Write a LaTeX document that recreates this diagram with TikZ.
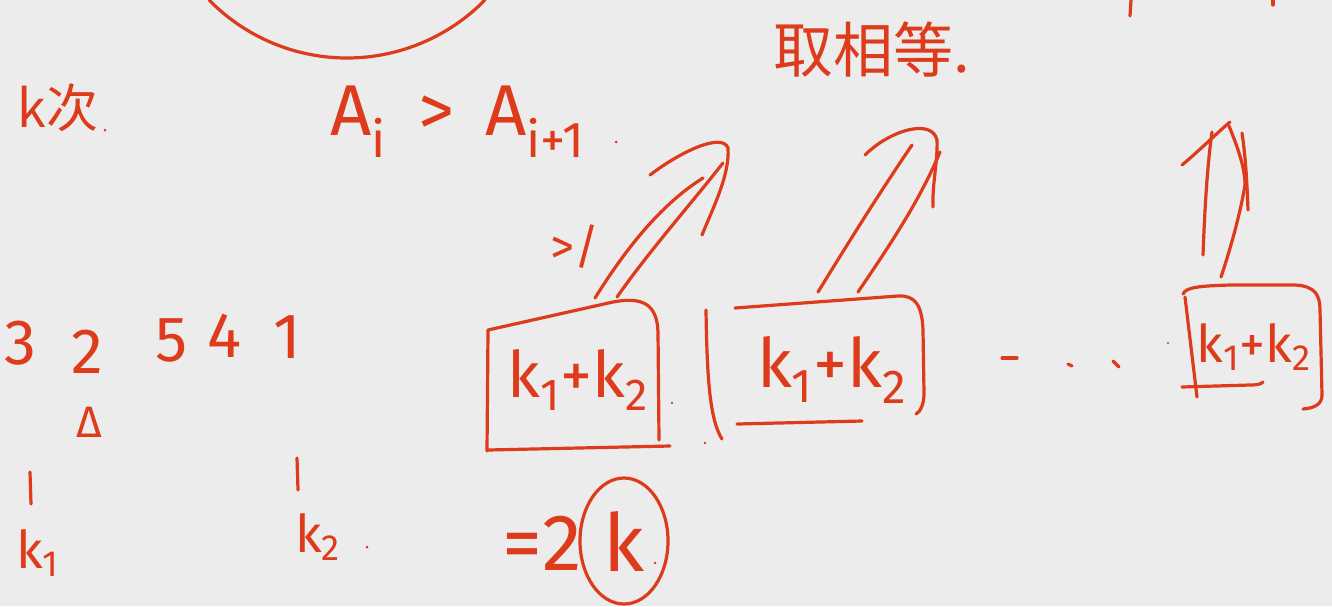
\documentclass[tikz,border=0pt]{standalone}
\usepackage{fontspec}
\setmainfont{Fira Sans}
\newfontfamily\cjkf{Noto Sans CJK SC}
\usetikzlibrary{shapes.geometric}
\definecolor{ink}{HTML}{DD3B1C}
\definecolor{board}{HTML}{EDECEC}
\begin{document}
\begin{tikzpicture}[x=0.5pt,y=-0.5pt,
  pen/.style={draw=ink,line width=1.6pt,line cap=round,line join=round},
  hw/.style={text=ink,inner sep=0pt,anchor=center},
  fs/.style={font=\fontsize{#1}{#1}\selectfont},
  dotc/.style={fill=ink}]
\useasboundingbox (0,0) rectangle (1332,606);
\fill[board] (0,0) rectangle (1332,606);

% top circle arc
\draw[pen] (347,-135) ++(135.6:193) arc[start angle=135.6,end angle=44.4,radius=193];

% top-right stray strokes
\draw[pen] (1131,0) -- (1130,16);
\draw[pen] (1273,0) -- (1273,5);

% texts
\node[hw,font=\cjkf\fontsize{26}{26}\selectfont] (kci) at (58,108) {k次};
\fill[dotc] (105,130) circle (1.5);
\node[hw,fs=36] (ineq) at (458,122) {A\textsubscript{i} \,>\, A\textsubscript{i+1}};
\fill[dotc] (616,142) circle (1.5);
\node[hw,font=\cjkf\fontsize{30}{30}\selectfont] (qxd) at (872,50) {取相等.};

% sequence
\node[hw,fs=32] (n3) at (20,343) {3};
\node[hw,fs=32] (n2) at (87,352) {2};
\node[hw,fs=32] (n5) at (172,340) {5};
\node[hw,fs=32] (n4) at (225,336) {4};
\node[hw,fs=32] (n1) at (287,337) {1};
\node[hw,fs=22] (tri) at (89,422) {Δ};
\coordinate (m1t) at (30,472); \coordinate (m1b) at (31,504);
\coordinate (m2t) at (297,458); \coordinate (m2b) at (298,490);
\draw[pen] (m1t) -- (m1b);
\draw[pen] (m2t) -- (m2b);
\node[hw,fs=26] (ka) at (38,553) {k\textsubscript{1}};
\node[hw,fs=26] (kb) at (318,537) {k\textsubscript{2}};
\fill[dotc] (367,547) circle (1.5);

% box 1
\draw[pen] (487,451) -- (488,330) -- (613,302) .. controls (640,297) and (657,302) .. (658,332) -- (659,440);
\draw[pen] (488,450) -- (670,446);
\node[hw,fs=32] (s1) at (578,380) {k\textsubscript{1}+k\textsubscript{2}};
\fill[dotc] (672,403) circle (1.3);
\fill[dotc] (705,443) circle (1.3);

% bracket + box 2
\draw[pen] (706,310) .. controls (707,380) and (710,420) .. (722,439);
\draw[pen] (735,308) -- (898,296) .. controls (915,295) and (922,305) .. (923,330) -- (924,393) .. controls (924,405) and (920,412) .. (916,414);
\draw[pen] (737,424) -- (862,421);
\node[hw,fs=34] (s2) at (832,370) {k\textsubscript{1}+k\textsubscript{2}};

% dots
\draw[pen] (1002,358) -- (1017,358);
\draw[pen] (1068,364) -- (1072,366);
\draw[pen] (1113,361) -- (1119,367);
\fill[dotc] (1168,343) circle (1.2);

% box 3
\draw[pen] (1185,297) -- (1197,397);
\draw[pen] (1183,294) .. controls (1186,287) and (1200,286) .. (1230,285) -- (1295,285) .. controls (1315,286) and (1320,295) .. (1320,310) -- (1322,395) .. controls (1322,404) and (1315,408) .. (1303,409);
\draw[pen] (1182,387) -- (1250,385) .. controls (1258,385) and (1261,384) .. (1263,382);
\node[hw,fs=26] (s3) at (1254,347) {k\textsubscript{1}+k\textsubscript{2}};

% arrows
\coordinate (a1s) at (595,298); \coordinate (a1e) at (703,178);
\coordinate (b1s) at (617,297); \coordinate (b1e) at (723,163);
\draw[pen] (a1s) .. controls (625,250) and (660,205) .. (a1e);
\draw[pen] (b1s) .. controls (650,250) and (690,205) .. (b1e);
\draw[pen] (650,175) .. controls (680,152) and (722,132) .. (728,148) .. controls (730,175) and (712,210) .. (702,235);
\node[hw,fs=24] (gt) at (575,247) {>/};

\coordinate (a2s) at (818,292); \coordinate (a2e) at (912,145);
\coordinate (b2s) at (858,292); \coordinate (b2e) at (940,152);
\draw[pen] (a2s) .. controls (850,240) and (880,192) .. (a2e);
\draw[pen] (b2s) .. controls (890,245) and (920,200) .. (b2e);
\draw[pen] (865,155) .. controls (890,130) and (932,118) .. (937,140) .. controls (938,160) and (932,185) .. (933,207);

\draw[pen] (1203,255) .. controls (1205,200) and (1208,160) .. (1212,132);
\draw[pen] (1182,165) .. controls (1200,150) and (1218,132) .. (1230,122);
\draw[pen] (1242,133) .. controls (1246,160) and (1247,185) .. (1248,210);
\draw[pen] (1229,126) .. controls (1238,148) and (1245,168) .. (1245,185) .. controls (1240,215) and (1230,250) .. (1221,277);

% =2k
\node[hw,fs=40] (eq2) at (542,543) {=2};
\node[hw,fs=40,ellipse,draw=ink,line width=1.6pt,minimum width=44pt,minimum height=63pt] (kc) at (624,541) {k};
\fill[dotc] (655,563) circle (1.3);
\end{tikzpicture}
\end{document}
